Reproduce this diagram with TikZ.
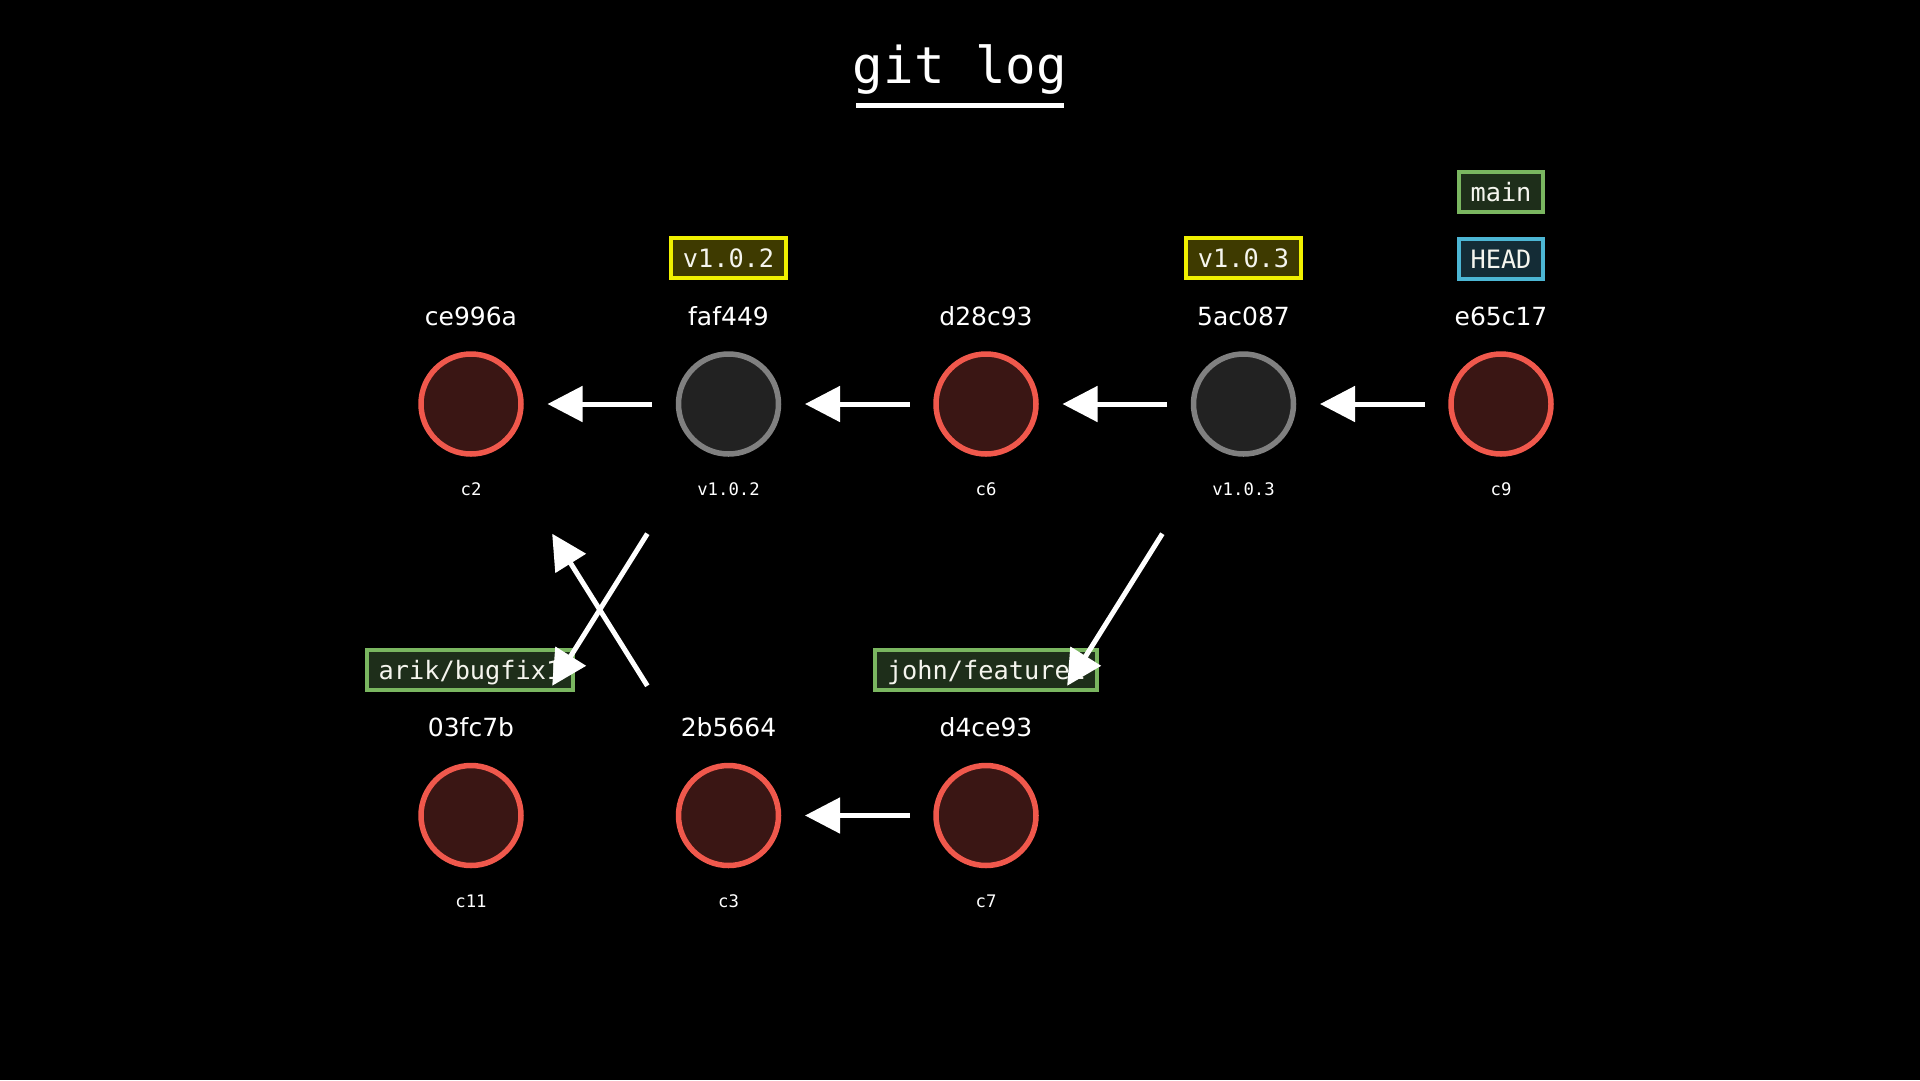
\documentclass[tikz,border=0pt]{standalone}
\usepackage{fontspec}
\setmainfont{DejaVu Sans}
\newfontfamily\monof{DejaVu Sans Mono}
\usetikzlibrary{arrows.meta}
\definecolor{cred}{RGB}{240,88,76}
\definecolor{crfill}{RGB}{58,22,20}
\definecolor{cgray}{RGB}{128,128,128}
\definecolor{cgfill}{RGB}{34,34,34}
\definecolor{cyel}{RGB}{240,240,0}
\definecolor{cyfill}{RGB}{62,58,0}
\definecolor{cgrn}{RGB}{122,182,96}
\definecolor{cgnfill}{RGB}{30,46,26}
\definecolor{cblu}{RGB}{76,182,212}
\definecolor{cbfill}{RGB}{20,44,54}
\definecolor{ctxt}{RGB}{245,245,238}
\begin{document}
\begin{tikzpicture}[x=1pt,y=-1pt,
  commit/.style={circle, minimum size=100pt, inner sep=0pt, outer sep=0pt, line width=5.5pt, draw=cred, fill=crfill},
  tagcommit/.style={commit, draw=cgray, fill=cgfill},
  hashlbl/.style={anchor=base, text=white, inner sep=0pt, font=\fontsize{25}{30}\selectfont},
  sublbl/.style={anchor=base, text=white, inner sep=0pt, font=\monof\fontsize{17.3}{20}\selectfont},
  refbox/.style={line width=4pt, inner xsep=12pt, inner ysep=0pt, text height=19pt, text depth=0pt, minimum height=40pt, outer sep=0pt, text=ctxt, font=\monof\fontsize{25.3}{30}\selectfont},
  tagbox/.style={refbox, draw=cyel, fill=cyfill},
  branchbox/.style={refbox, draw=cgrn, fill=cgnfill},
  headbox/.style={refbox, draw=cblu, fill=cbfill},
  parentarrow/.style={draw=white, line width=5pt, -{Triangle[length=35pt,width=35pt]}, shorten >=26.5pt, shorten <=26.5pt},
  diagarrow/.style={parentarrow, shorten >=103pt, shorten <=103pt}
]
\fill[black] (0,0) rectangle (1920,1080);
\useasboundingbox (0,0) rectangle (1920,1080);

% title
\node[anchor=base, text=white, inner sep=0pt, font=\monof\fontsize{50.8}{60}\selectfont] (title) at (960,83) {git log};
\draw[white, line width=5pt] (856,105) -- (1064,105);

% top row commits
\node[commit] (nce) at (471,404) {};
\node[tagcommit] (nfaf) at (728.5,404) {};
\node[commit] (nd28) at (986,404) {};
\node[tagcommit] (n5ac) at (1243.5,404) {};
\node[commit] (ne65) at (1501,404) {};
% bottom row commits
\node[commit] (n03f) at (471,815.5) {};
\node[commit] (n2b5) at (728.5,815.5) {};
\node[commit] (nd4c) at (986,815.5) {};

% hash labels
\node[hashlbl] (hce) at (471,325) {ce996a};
\node[hashlbl] (hfaf) at (728.5,325) {faf449};
\node[hashlbl] (hd28) at (986,325) {d28c93};
\node[hashlbl] (h5ac) at (1243.5,325) {5ac087};
\node[hashlbl] (he65) at (1501,325) {e65c17};
\node[hashlbl] (h03f) at (471,736.5) {03fc7b};
\node[hashlbl] (h2b5) at (728.5,736.5) {2b5664};
\node[hashlbl] (hd4c) at (986,736.5) {d4ce93};

% sub labels
\node[sublbl] (sce) at (471,495.5) {c2};
\node[sublbl] (sfaf) at (728.5,495.5) {v1.0.2};
\node[sublbl] (sd28) at (986,495.5) {c6};
\node[sublbl] (s5ac) at (1243.5,495.5) {v1.0.3};
\node[sublbl] (se65) at (1501,495.5) {c9};
\node[sublbl] (s03f) at (471,907) {c11};
\node[sublbl] (s2b5) at (728.5,907) {c3};
\node[sublbl] (sd4c) at (986,907) {c7};

% refs
\node[tagbox] (tv102) at (728.5,258) {v1.0.2};
\node[tagbox] (tv103) at (1243.5,258) {v1.0.3};
\node[branchbox] (bmain) at (1501,192) {main};
\node[headbox] (bhead) at (1501,258.5) {HEAD};
\node[branchbox] (barik) at (470,670) {arik/bugfix1};
\node[branchbox] (bjohn) at (986,670) {john/feature1};

% parent arrows
\draw[parentarrow] (nfaf) -- (nce);
\draw[parentarrow] (nd28) -- (nfaf);
\draw[parentarrow] (n5ac) -- (nd28);
\draw[parentarrow] (ne65) -- (n5ac);
\draw[parentarrow] (nd4c) -- (n2b5);
\draw[diagarrow] (n2b5) -- (nce);
\draw[diagarrow] (nfaf) -- (n03f);
\draw[diagarrow] (n5ac) -- (nd4c);
\end{tikzpicture}
\end{document}
